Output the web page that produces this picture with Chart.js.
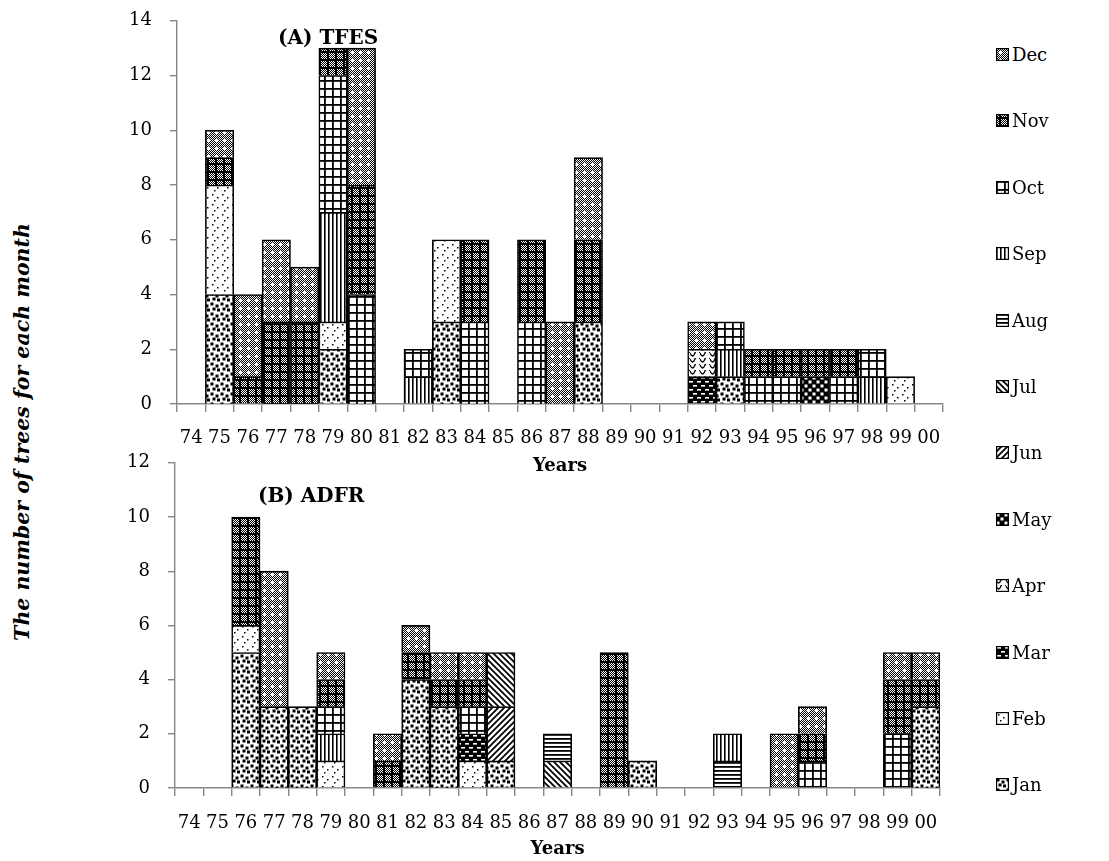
<!DOCTYPE html>
<html>
<head>
<meta charset="utf-8">
<script src="https://cdn.jsdelivr.net/npm/chart.js@4.4.1/dist/chart.umd.min.js"></script>
<style>
body{margin:0;background:#fff;width:1109px;height:861px;position:relative;overflow:hidden;font-family:"DejaVu Serif",serif;color:#000;}
.box{position:absolute;}
#yTitle{position:absolute;left:22px;top:432px;transform:translate(-50%,-50%) rotate(-90deg);font:italic bold 20.5px "DejaVu Serif",serif;white-space:nowrap;}
.ptitle{position:absolute;z-index:5;font:bold 20px "DejaVu Serif",serif;line-height:22px;white-space:nowrap;}
.item{position:absolute;left:996px;display:flex;align-items:center;font-size:18px;white-space:nowrap;}
.item canvas{margin-right:3px;}
</style>
</head>
<body>
<div class="box" style="left:100px;top:-8px;width:860px;height:488px"><canvas id="chartA"></canvas></div>
<div class="box" style="left:100px;top:434px;width:860px;height:427px"><canvas id="chartB"></canvas></div>
<div id="yTitle">The number of trees for each month</div>
<div class="ptitle" style="left:278px;top:26px">(A) TFES</div>
<div class="ptitle" style="left:258px;top:484px">(B) ADFR</div>
<div id="legend"></div>
<script>

const years=['74','75','76','77','78','79','80','81','82','83','84','85','86','87','88','89','90','91','92','93','94','95','96','97','98','99','00'];

const months=['Jan','Feb','Mar','Apr','May','Jun','Jul','Aug','Sep','Oct','Nov','Dec'];

// (A) TFES
const tfesJan=[0,4,0,0,0,2,0,0,0,3,0,0,0,0,3,0,0,0,0,1,0,0,0,0,0,0,0];
const tfesFeb=[0,4,0,0,0,1,0,0,0,3,0,0,0,0,0,0,0,0,0,0,0,0,0,0,0,1,0];
const tfesMar=[0,0,0,0,0,0,0,0,0,0,0,0,0,0,0,0,0,0,1,0,0,0,0,0,0,0,0];
const tfesApr=[0,0,0,0,0,0,0,0,0,0,0,0,0,0,0,0,0,0,1,0,0,0,0,0,0,0,0];
const tfesMay=[0,0,0,0,0,0,0,0,0,0,0,0,0,0,0,0,0,0,0,0,0,0,1,0,0,0,0];
const tfesJun=[0,0,0,0,0,0,0,0,0,0,0,0,0,0,0,0,0,0,0,0,0,0,0,0,0,0,0];
const tfesJul=[0,0,0,0,0,0,0,0,0,0,0,0,0,0,0,0,0,0,0,0,0,0,0,0,0,0,0];
const tfesAug=[0,0,0,0,0,0,0,0,0,0,0,0,0,0,0,0,0,0,0,0,0,0,0,0,0,0,0];
const tfesSep=[0,0,0,0,0,4,0,0,1,0,0,0,0,0,0,0,0,0,0,1,0,0,0,0,1,0,0];
const tfesOct=[0,0,0,0,0,5,4,0,1,0,3,0,3,0,0,0,0,0,0,1,1,1,0,1,1,0,0];
const tfesNov=[0,1,1,3,3,1,4,0,0,0,3,0,3,0,3,0,0,0,0,0,1,1,1,1,0,0,0];
const tfesDec=[0,1,3,3,2,0,5,0,0,0,0,0,0,3,3,0,0,0,1,0,0,0,0,0,0,0,0];

// (B) ADFR
const adfrJan=[0,0,5,3,3,0,0,0,4,3,0,1,0,0,0,0,1,0,0,0,0,0,0,0,0,0,3];
const adfrFeb=[0,0,1,0,0,1,0,0,0,0,1,0,0,0,0,0,0,0,0,0,0,0,0,0,0,0,0];
const adfrMar=[0,0,0,0,0,0,0,0,0,0,1,0,0,0,0,0,0,0,0,0,0,0,0,0,0,0,0];
const adfrApr=[0,0,0,0,0,0,0,0,0,0,0,0,0,0,0,0,0,0,0,0,0,0,0,0,0,0,0];
const adfrMay=[0,0,0,0,0,0,0,0,0,0,0,0,0,0,0,0,0,0,0,0,0,0,0,0,0,0,0];
const adfrJun=[0,0,0,0,0,0,0,0,0,0,0,2,0,0,0,0,0,0,0,0,0,0,0,0,0,0,0];
const adfrJul=[0,0,0,0,0,0,0,0,0,0,0,2,0,1,0,0,0,0,0,0,0,0,0,0,0,0,0];
const adfrAug=[0,0,0,0,0,0,0,0,0,0,0,0,0,1,0,0,0,0,0,1,0,0,0,0,0,0,0];
const adfrSep=[0,0,0,0,0,1,0,0,0,0,0,0,0,0,0,0,0,0,0,1,0,0,0,0,0,0,0];
const adfrOct=[0,0,0,0,0,1,0,0,0,0,1,0,0,0,0,0,0,0,0,0,0,0,1,0,0,2,0];
const adfrNov=[0,0,4,0,0,1,0,1,1,1,1,0,0,0,0,5,0,0,0,0,0,0,1,0,0,2,1];
const adfrDec=[0,0,0,5,0,1,0,1,1,1,1,0,0,0,0,0,0,0,0,0,0,2,1,0,0,1,1];

const tfes=[tfesJan,tfesFeb,tfesMar,tfesApr,tfesMay,tfesJun,tfesJul,tfesAug,tfesSep,tfesOct,tfesNov,tfesDec];
const adfr=[adfrJan,adfrFeb,adfrMar,adfrApr,adfrMay,adfrJun,adfrJul,adfrAug,adfrSep,adfrOct,adfrNov,adfrDec];

Chart.defaults.font.family='"DejaVu Serif", serif';
Chart.defaults.color='#000';

function tile(w,h,draw){
let c=document.createElement('canvas');
c.width=w;c.height=h;
let g=c.getContext('2d');
g.fillStyle='#fff';
g.fillRect(0,0,w,h);
g.fillStyle='#000';
g.strokeStyle='#000';
draw(g);
return c;
}

function checker(g,n){
for(let x=0;x<n;x++)for(let y=0;y<n;y++){if((x+y)%2==1)g.fillRect(x,y,1,1);}
}

const tiles={
Jan:tile(10,10,g=>{[[0.5,0.5],[5.5,2.5],[2.5,5.5],[7,6.5]].forEach(p=>g.fillRect(p[0],p[1],3,3));}),
Feb:tile(10,10,g=>{[[2,2],[7,5],[4,8]].forEach(p=>g.fillRect(p[0],p[1],1.5,1.5));}),
Mar:tile(8,8,g=>{g.fillRect(0,0,8,8);g.fillStyle='#fff';g.fillRect(1,1,4,1.6);g.fillRect(5,5,3,1.6);g.fillRect(0,5,1,1.6);}),
Apr:tile(10,6,g=>{g.lineWidth=1.4;g.beginPath();g.moveTo(0,1);g.quadraticCurveTo(2.5,7,5,1);g.quadraticCurveTo(7.5,-5,10,1);g.stroke();}),
May:tile(8,8,g=>{g.fillRect(0,0,8,8);g.fillStyle='#fff';g.fillRect(0.5,0.5,3,3);g.fillRect(4.5,4.5,3,3);}),
Jun:tile(6,6,g=>{g.lineWidth=1.8;g.beginPath();g.moveTo(-1,1);g.lineTo(1,-1);g.moveTo(0,6);g.lineTo(6,0);g.moveTo(5,7);g.lineTo(7,5);g.stroke();}),
Jul:tile(6,6,g=>{g.lineWidth=1.8;g.beginPath();g.moveTo(-1,5);g.lineTo(1,7);g.moveTo(0,0);g.lineTo(6,6);g.moveTo(5,-1);g.lineTo(7,1);g.stroke();}),
Aug:tile(4,4,g=>{g.fillRect(0,0,4,1.8);}),
Sep:tile(4,4,g=>{g.fillRect(0,0,1.6,4);}),
Oct:tile(8,8,g=>{g.fillRect(0,0,8,1.8);g.fillRect(0,0,1.8,8);}),
Nov:tile(8,8,g=>{checker(g,8);g.fillRect(0,3,8,2);g.fillRect(3,0,2,8);}),
Dec:tile(8,8,g=>{checker(g,8);g.fillStyle='#fff';[[4,3],[3,4],[4,4],[5,4],[4,5]].forEach(p=>g.fillRect(p[0],p[1],1,1));})
};

function fills(ctx){
let f={};
months.forEach(m=>{f[m]=ctx.createPattern(tiles[m],'repeat');});
return f;
}

function makeChart(id,series,max,yWidth,padRight,xHeight,labelPad,titlePad){

let ctx=document.getElementById(id).getContext('2d');
let f=fills(ctx);

let datasets=months.map((m,i)=>({
label:m,
data:series[i].map(v=>v||null),
backgroundColor:f[m],
borderColor:'#000',
borderWidth:1.6,
barPercentage:1,
categoryPercentage:1
}));

return new Chart(ctx,{
type:'bar',
data:{labels:years,datasets:datasets},
options:{
responsive:true,
maintainAspectRatio:false,
animation:false,
layout:{padding:{top:0,right:padRight,left:0,bottom:0}},
plugins:{legend:{display:false},tooltip:{enabled:false}},
scales:{
x:{
stacked:true,
offset:true,
grid:{offset:true,drawOnChartArea:false,tickLength:8,color:'#878787',lineWidth:1.4},
border:{color:'#878787',width:1.4},
ticks:{autoSkip:false,maxRotation:0,padding:labelPad,font:{size:18},color:'#000'},
title:{display:true,text:'Years',font:{size:18,weight:'bold'},color:'#000',padding:{top:0,bottom:titlePad}},
afterFit(s){s.height=xHeight;}
},
y:{
stacked:true,
min:0,
max:max,
grid:{drawOnChartArea:false,tickLength:7,color:'#878787',lineWidth:1.4},
border:{color:'#878787',width:1.4},
ticks:{stepSize:2,padding:18,font:{size:18},color:'#000'},
afterFit(s){s.width=yWidth;}
}
}
}
});

}

makeChart('chartA',tfes,14,77,17,76,16,3);
makeChart('chartB',adfr,12,75,20,73,17,1);

// legend, Dec on top
let legend=document.getElementById('legend');
let order=months.slice().reverse();
order.forEach((m,i)=>{
let item=document.createElement('div');
item.className='item';
item.style.top=(55+i*66.4-11)+'px';
let sw=document.createElement('canvas');
sw.width=13;sw.height=13;
let g=sw.getContext('2d');
g.fillStyle=g.createPattern(tiles[m],'repeat');
g.fillRect(0,0,13,13);
g.strokeStyle='#000';
g.lineWidth=1.2;
g.strokeRect(0.6,0.6,11.8,11.8);
item.appendChild(sw);
let t=document.createElement('span');
t.textContent=m;
item.appendChild(t);
legend.appendChild(item);
});

</script>
</body>
</html>
